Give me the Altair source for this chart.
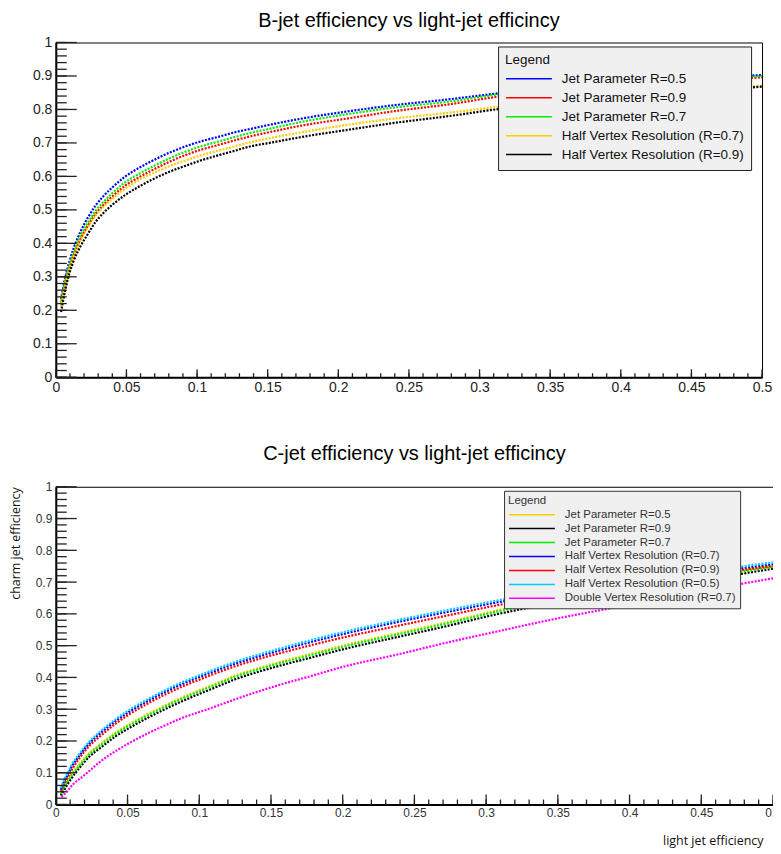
import altair as alt
import pandas as pd

# ---------------- top panel (B-jet) ----------------
top_title = "B-jet efficiency vs light-jet efficincy"
top_series = ["Jet Parameter R=0.5", "Jet Parameter R=0.9", "Jet Parameter R=0.7",
              "Half Vertex Resolution (R=0.7)", "Half Vertex Resolution (R=0.9)"]
top_colors = ["#0000ff", "#ff0000", "#00ee00", "#ffcc00", "#000000"]

top_x = [0.0037, 0.0068, 0.0098, 0.0126, 0.0177, 0.023, 0.028, 0.0335, 0.040, 0.049,
         0.060, 0.068, 0.080, 0.092, 0.103, 0.115, 0.127, 0.138, 0.150, 0.173,
         0.208, 0.24, 0.278, 0.313, 0.36, 0.40, 0.45, 0.50]
top_blue = [0.233, 0.300, 0.348, 0.385, 0.437, 0.479, 0.512, 0.540, 0.567, 0.599,
            0.628, 0.646, 0.670, 0.690, 0.705, 0.718, 0.732, 0.742, 0.753, 0.772,
            0.795, 0.813, 0.830, 0.848, 0.865, 0.877, 0.890, 0.903]
top_red = [0.217, 0.285, 0.330, 0.364, 0.415, 0.455, 0.487, 0.514, 0.540, 0.572,
           0.600, 0.618, 0.643, 0.664, 0.680, 0.694, 0.708, 0.720, 0.731, 0.751,
           0.774, 0.795, 0.815, 0.838, 0.856, 0.870, 0.883, 0.896]
top_green = [0.224, 0.290, 0.337, 0.372, 0.424, 0.464, 0.496, 0.523, 0.550, 0.582,
             0.610, 0.628, 0.653, 0.674, 0.690, 0.704, 0.718, 0.730, 0.741, 0.762,
             0.787, 0.806, 0.823, 0.845, 0.862, 0.875, 0.888, 0.900]
top_yellow = [0.211, 0.276, 0.325, 0.360, 0.410, 0.450, 0.482, 0.508, 0.533, 0.563,
              0.592, 0.608, 0.630, 0.648, 0.663, 0.677, 0.690, 0.702, 0.713, 0.731,
              0.755, 0.773, 0.790, 0.808, 0.828, 0.843, 0.858, 0.871]
top_black = [0.195, 0.262, 0.313, 0.347, 0.393, 0.430, 0.463, 0.490, 0.515, 0.544,
             0.572, 0.590, 0.613, 0.632, 0.648, 0.663, 0.677, 0.690, 0.699, 0.717,
             0.740, 0.760, 0.780, 0.801, 0.822, 0.838, 0.853, 0.868]

# ---------------- bottom panel (C-jet) ----------------
bot_title = "C-jet efficiency vs light-jet efficincy"
bot_series = ["Jet Parameter R=0.5", "Jet Parameter R=0.9", "Jet Parameter R=0.7",
              "Half Vertex Resolution (R=0.7)", "Half Vertex Resolution (R=0.9)",
              "Half Vertex Resolution (R=0.5)", "Double Vertex Resolution (R=0.7)"]
bot_colors = ["#ffcc00", "#000000", "#00ee00", "#0000ff", "#ff0000", "#00ccff", "#ff00ff"]

bot_x = [0.0035, 0.006, 0.0085, 0.011, 0.0165, 0.0235, 0.031, 0.0415, 0.052, 0.065,
         0.077, 0.088, 0.100, 0.112, 0.125, 0.143, 0.157, 0.175, 0.2035, 0.238,
         0.273, 0.3076, 0.35, 0.40, 0.45, 0.50]
bot_cyan = [0.052, 0.080, 0.101, 0.124, 0.160, 0.199, 0.230, 0.268, 0.300, 0.334,
            0.362, 0.385, 0.407, 0.428, 0.449, 0.474, 0.492, 0.514, 0.546, 0.580,
            0.612, 0.642, 0.675, 0.705, 0.733, 0.762]
bot_blue = [0.046, 0.074, 0.095, 0.118, 0.154, 0.193, 0.224, 0.262, 0.294, 0.328,
            0.356, 0.379, 0.401, 0.422, 0.443, 0.468, 0.486, 0.508, 0.540, 0.574,
            0.606, 0.636, 0.669, 0.699, 0.727, 0.756]
bot_red = [0.040, 0.066, 0.087, 0.108, 0.146, 0.185, 0.215, 0.254, 0.286, 0.320,
           0.348, 0.371, 0.393, 0.414, 0.435, 0.460, 0.477, 0.498, 0.529, 0.562,
           0.595, 0.627, 0.660, 0.692, 0.722, 0.750]
bot_yellow = [0.037, 0.060, 0.079, 0.096, 0.127, 0.163, 0.190, 0.226, 0.255, 0.287,
              0.314, 0.337, 0.360, 0.382, 0.406, 0.432, 0.450, 0.471, 0.504, 0.539,
              0.574, 0.611, 0.648, 0.683, 0.717, 0.752]
bot_green = [0.033, 0.056, 0.075, 0.092, 0.123, 0.159, 0.186, 0.222, 0.251, 0.283,
             0.310, 0.333, 0.356, 0.378, 0.402, 0.428, 0.446, 0.467, 0.500, 0.535,
             0.570, 0.607, 0.644, 0.679, 0.713, 0.748]
bot_black = [0.028, 0.047, 0.066, 0.083, 0.115, 0.151, 0.178, 0.214, 0.243, 0.275,
             0.302, 0.325, 0.348, 0.370, 0.394, 0.420, 0.438, 0.459, 0.492, 0.527,
             0.562, 0.599, 0.636, 0.672, 0.706, 0.742]
mag_x = [0.0039, 0.0079, 0.0125, 0.0171, 0.0229, 0.0299, 0.0368, 0.0438, 0.053, 0.0646,
         0.0762, 0.0877, 0.0993, 0.111, 0.1225, 0.134, 0.1456, 0.157, 0.1745, 0.2035,
         0.238, 0.273, 0.308, 0.349, 0.38, 0.42, 0.46, 0.50]
mag_y = [0.024, 0.042, 0.066, 0.082, 0.104, 0.131, 0.154, 0.174, 0.198, 0.225,
         0.249, 0.272, 0.290, 0.308, 0.327, 0.345, 0.362, 0.378, 0.400, 0.437,
         0.472, 0.510, 0.545, 0.585, 0.612, 0.645, 0.680, 0.712]

# axis tick values
x_major = [0, 0.05, 0.1, 0.15, 0.2, 0.25, 0.3, 0.35, 0.4, 0.45, 0.5]
x_minor = [i / 100 for i in range(51)]
y_major = [0, 0.1, 0.2, 0.3, 0.4, 0.5, 0.6, 0.7, 0.8, 0.9, 1.0]
y_minor = [i / 50 for i in range(51)]


def long_df(pairs):
    rows = []
    for name, xs, ys in pairs:
        for i, (a, b) in enumerate(zip(xs, ys)):
            rows.append({"series": name, "x": a, "y": b, "i": i})
    return pd.DataFrame(rows)


top_df = long_df([
    (top_series[0], top_x, top_blue),
    (top_series[1], top_x, top_red),
    (top_series[2], top_x, top_green),
    (top_series[3], top_x, top_yellow),
    (top_series[4], top_x, top_black),
])
bot_df = long_df([
    (bot_series[0], bot_x, bot_yellow),
    (bot_series[1], bot_x, bot_black),
    (bot_series[2], bot_x, bot_green),
    (bot_series[3], bot_x, bot_blue),
    (bot_series[4], bot_x, bot_red),
    (bot_series[5], bot_x, bot_cyan),
    (bot_series[6], mag_x, mag_y),
])

FONT = "Liberation Sans"


def panel(df, names, colors, title, W, H, fs, lab_color, legend_kw, xtitle=None, ytitle=None,
          title_offset=12, xmaj=8, xmin=4):
    xsc = alt.Scale(domain=[0, 0.5], nice=False, zero=False)
    ysc = alt.Scale(domain=[0, 1], nice=False, zero=False)
    xaxis_kw = dict(values=x_major, format="~g", ticks=False, grid=False, domainColor="black",
                    domainWidth=2, labelFont=FONT, labelFontSize=fs, labelColor=lab_color,
                    labelPadding=3, labelFlush=False, labelOverlap=False)
    yaxis_kw = dict(values=y_major, format="~g", ticks=False, grid=False, domainColor="black",
                    domainWidth=2, labelFont=FONT, labelFontSize=fs, labelColor=lab_color,
                    labelPadding=4, labelFlush=False, labelOverlap=False)
    if xtitle:
        xaxis_kw.update(title=xtitle, titleFont="Open Sans", titleFontSize=12.5,
                        titleFontWeight="normal", titleColor="#111", titlePadding=16,
                        titleX=W - 10, titleAlign="right")
    else:
        xaxis_kw.update(title=None)
    if ytitle:
        yaxis_kw.update(title=ytitle, titleAnchor="end", titleFont="Open Sans", titleFontSize=12.5,
                        titleFontWeight="normal", titleColor="#111", titlePadding=13)
    else:
        yaxis_kw.update(title=None)
    xax = alt.Axis(**xaxis_kw)
    yax = alt.Axis(**yaxis_kw)

    lines = alt.Chart(df).mark_line(strokeDash=[2, 1.4], strokeWidth=2.2, strokeCap="butt",
                                    interpolate="monotone").encode(
        x=alt.X("x:Q", scale=xsc, axis=xax),
        y=alt.Y("y:Q", scale=ysc, axis=yax),
        color=alt.Color("series:N", scale=alt.Scale(domain=names, range=colors),
                        sort=names, legend=alt.Legend(**legend_kw)),
        order="i:Q",
    )
    tick_color = "#222"
    ymaj = alt.Chart(pd.DataFrame({"v": y_major})).mark_rule(color=tick_color, strokeWidth=1.3).encode(
        y=alt.Y("v:Q", scale=ysc, axis=yax), x=alt.value(0), x2=alt.value(21))
    ymin = alt.Chart(pd.DataFrame({"v": y_minor})).mark_rule(color=tick_color, strokeWidth=1.3).encode(
        y=alt.Y("v:Q", scale=ysc, axis=yax), x=alt.value(0), x2=alt.value(11))
    xmj = alt.Chart(pd.DataFrame({"v": x_major})).mark_rule(color=tick_color, strokeWidth=1.3).encode(
        x=alt.X("v:Q", scale=xsc, axis=xax), y=alt.value(H), y2=alt.value(H - xmaj))
    xmn = alt.Chart(pd.DataFrame({"v": x_minor})).mark_rule(color=tick_color, strokeWidth=1.3).encode(
        x=alt.X("v:Q", scale=xsc, axis=xax), y=alt.value(H), y2=alt.value(H - xmin))
    return alt.layer(lines, ymin, ymaj, xmn, xmj).properties(
        width=W, height=H,
        title=alt.TitleParams(title, font=FONT, fontSize=20, fontWeight="normal", color="black",
                              anchor="middle", offset=title_offset),
    )


top_legend = dict(title="Legend", orient="none", legendX=444, legendY=4, fillColor="#f0f0f0",
                  strokeColor="#222", padding=7, symbolType="stroke", symbolSize=2116,
                  symbolStrokeWidth=1.5, clipHeight=16, labelFont=FONT, labelFontSize=13.5,
                  labelColor="#111", labelOffset=9, labelLimit=400, titleFont=FONT,
                  titleFontSize=13.5, titleFontWeight="normal", titleColor="#111", titlePadding=4,
                  rowPadding=3, symbolDash=[1, 0])
bot_legend = dict(title="Legend", orient="none", legendX=450, legendY=4, fillColor="#f0f0f0",
                  strokeColor="#333", padding=4, symbolType="stroke", symbolSize=2116,
                  symbolStrokeWidth=1.5, clipHeight=11, labelFont=FONT, labelFontSize=11.5,
                  labelColor="#333", labelOffset=9, labelLimit=400, titleFont=FONT,
                  titleFontSize=11.5, titleFontWeight="normal", titleColor="#333", titlePadding=3,
                  rowPadding=2.0, symbolDash=[1, 0])

top = panel(top_df, top_series, top_colors, top_title, 709, 336, 14, "#222", top_legend,
            title_offset=5)
bot = panel(bot_df, bot_series, bot_colors, bot_title, 720, 319, 12, "#333", bot_legend,
            xtitle="light jet efficiency", ytitle="charm jet efficiency", title_offset=17,
            xmaj=10, xmin=5)

chart = alt.vconcat(top, bot, spacing=48).resolve_scale(
    color="independent", x="independent", y="independent"
).properties(padding={"left": 0, "top": 0, "right": -9, "bottom": 0}).configure_view(
    stroke="black", strokeWidth=1
)

chart.save("out.html", embed_options={"renderer": "svg", "actions": False})
